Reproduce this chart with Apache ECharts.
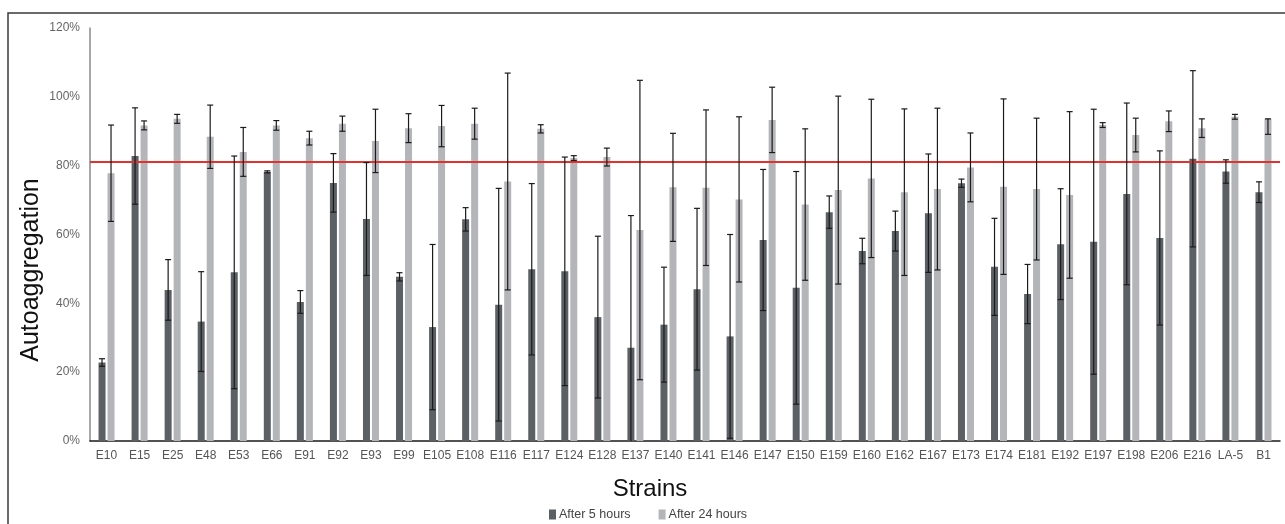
<!DOCTYPE html>
<html>
<head>
<meta charset="utf-8">
<script src="https://cdn.jsdelivr.net/npm/echarts@6/dist/echarts.min.js"></script>
<style>
html,body{margin:0;padding:0;background:#fff;}
#chart{width:1285px;height:524px;}
</style>
</head>
<body>
<div id="chart"></div>
<script>
const strains = ['E10','E15','E25','E48','E53','E66','E91','E92','E93','E99','E105','E108','E116','E117','E124','E128','E137','E140','E141','E146','E147','E150','E159','E160','E162','E167','E173','E174','E181','E192','E197','E198','E206','E216','LA-5','B1'];
const after5 = [22.8,82.8,43.9,34.7,49.0,78.2,40.4,75.0,64.5,47.7,33.1,64.4,39.6,49.9,49.3,36.0,27.1,33.8,44.1,30.4,58.4,44.5,66.5,55.2,61.0,66.2,74.9,50.6,42.7,57.2,57.9,71.8,59.0,82.0,78.3,72.3];
const err5 = [1.1,14.0,8.8,14.5,33.8,0.3,3.3,8.5,16.4,1.2,24.0,3.4,33.8,24.9,33.2,23.5,38.4,16.7,23.5,29.6,20.5,33.8,4.7,3.7,5.8,17.2,1.2,14.1,8.6,16.1,38.5,26.4,25.3,25.6,3.4,3.0];
const after24 = [77.8,91.7,93.6,88.4,84.0,91.7,88.0,92.2,87.2,90.9,91.5,92.2,75.4,90.7,82.2,82.5,61.3,73.7,73.6,70.2,93.3,68.7,72.9,76.3,72.3,73.2,79.5,73.9,73.2,71.5,91.8,88.9,92.9,90.9,94.2,93.6];
const err24Minus = [14.0,1.3,1.3,9.2,7.1,1.4,2.0,2.2,9.2,4.2,6.0,4.5,31.5,1.2,0.7,2.6,43.5,15.7,22.6,24.0,9.5,22.0,27.3,23.0,24.2,23.5,10.0,25.5,20.6,24.2,0.7,4.9,3.0,2.7,0.7,4.5];
const err24Plus = [14.0,1.3,1.3,9.2,7.1,1.4,2.0,2.2,9.2,4.2,6.0,4.5,31.5,1.2,0.7,2.6,43.5,15.7,22.6,24.0,9.5,22.0,27.3,23.0,24.2,23.5,10.0,25.5,20.6,24.2,0.7,4.9,3.0,2.7,0.7,0.0];
const threshold = 81;
const yTicks = {min: 0, max: 120, interval: 20};

const FONT = '"Liberation Sans", Arial, Helvetica, sans-serif';
const BAR_W = 7, BAR_GAP = 2;
const SHIFT = (BAR_W + BAR_GAP) / 2;

function errRender(side){
  return function(params, api){
    const i = api.value(0);
    const lo = api.coord([i, api.value(1)]);
    const hi = api.coord([i, api.value(2)]);
    const x = lo[0] + side * SHIFT;
    const style = {stroke: '#1b1b1b', lineWidth: 1.2};
    const cap = 3;
    return {
      type: 'group',
      children: [
        {type: 'line', shape: {x1: x, y1: lo[1], x2: x, y2: hi[1]}, style: style},
        {type: 'line', shape: {x1: x - cap, y1: lo[1], x2: x + cap, y2: lo[1]}, style: style},
        {type: 'line', shape: {x1: x - cap, y1: hi[1], x2: x + cap, y2: hi[1]}, style: style}
      ]
    };
  };
}

const chart = echarts.init(document.getElementById('chart'), null, {renderer: 'canvas'});
chart.setOption({
  animation: false,
  backgroundColor: '#fff',
  grid: {left: 90, right: 5, top: 28, bottom: 83, containLabel: false},
  legend: {
    data: ['After 5 hours', 'After 24 hours'],
    left: 549, top: 508,
    icon: 'rect', itemWidth: 7, itemHeight: 10, itemGap: 28,
    textStyle: {fontFamily: FONT, fontSize: 12.5, color: '#444', padding: [0,0,0,-2]},
    padding: 0
  },
  xAxis: {
    type: 'category',
    data: strains,
    axisLine: {show: true, lineStyle: {color: '#1a1a1a', width: 1.5}},
    axisTick: {show: false},
    axisLabel: {interval: 0, margin: 9, fontFamily: FONT, fontSize: 12, color: '#555'},
    splitLine: {show: false}
  },
  yAxis: {
    type: 'value',
    min: yTicks.min, max: yTicks.max, interval: yTicks.interval,
    axisLine: {show: true, lineStyle: {color: '#8a8a8a', width: 1.5}},
    axisTick: {show: false},
    splitLine: {show: false},
    axisLabel: {formatter: '{value}%', margin: 10, fontFamily: FONT, fontSize: 12, color: '#666'}
  },
  graphic: [
    {type: 'rect', shape: {x: 8, y: 13, width: 1300, height: 540}, style: {fill: 'none', stroke: '#3a3a3a', lineWidth: 1.5}, silent: true},
    {type: 'text', x: 31, y: 270, rotation: Math.PI / 2, style: {text: 'Autoaggregation', font: '25px ' + FONT, fill: '#111', textAlign: 'center', textVerticalAlign: 'middle'}},
    {type: 'text', x: 650, y: 489, style: {text: 'Strains', font: '24px ' + FONT, fill: '#111', textAlign: 'center', textVerticalAlign: 'middle'}}
  ],
  series: [
    {
      name: 'After 5 hours', type: 'bar', data: after5,
      barWidth: BAR_W, barGap: (BAR_GAP / BAR_W * 100) + '%',
      itemStyle: {color: '#5b6064'},
      markLine: {
        silent: true, symbol: 'none', label: {show: false},
        lineStyle: {color: '#e2322e', width: 2, type: 'solid'},
        data: [{yAxis: threshold}]
      }
    },
    {
      name: 'After 24 hours', type: 'bar', data: after24,
      barWidth: BAR_W,
      itemStyle: {color: '#b4b5b9'}
    },
    {
      type: 'custom', name: 'err5', renderItem: errRender(-1), clip: true, z: 5,
      data: strains.map((s, i) => [i, after5[i] - err5[i], after5[i] + err5[i]])
    },
    {
      type: 'custom', name: 'err24', renderItem: errRender(1), clip: true, z: 5,
      data: strains.map((s, i) => [i, after24[i] - err24Minus[i], after24[i] + err24Plus[i]])
    }
  ]
});
</script>
</body>
</html>
